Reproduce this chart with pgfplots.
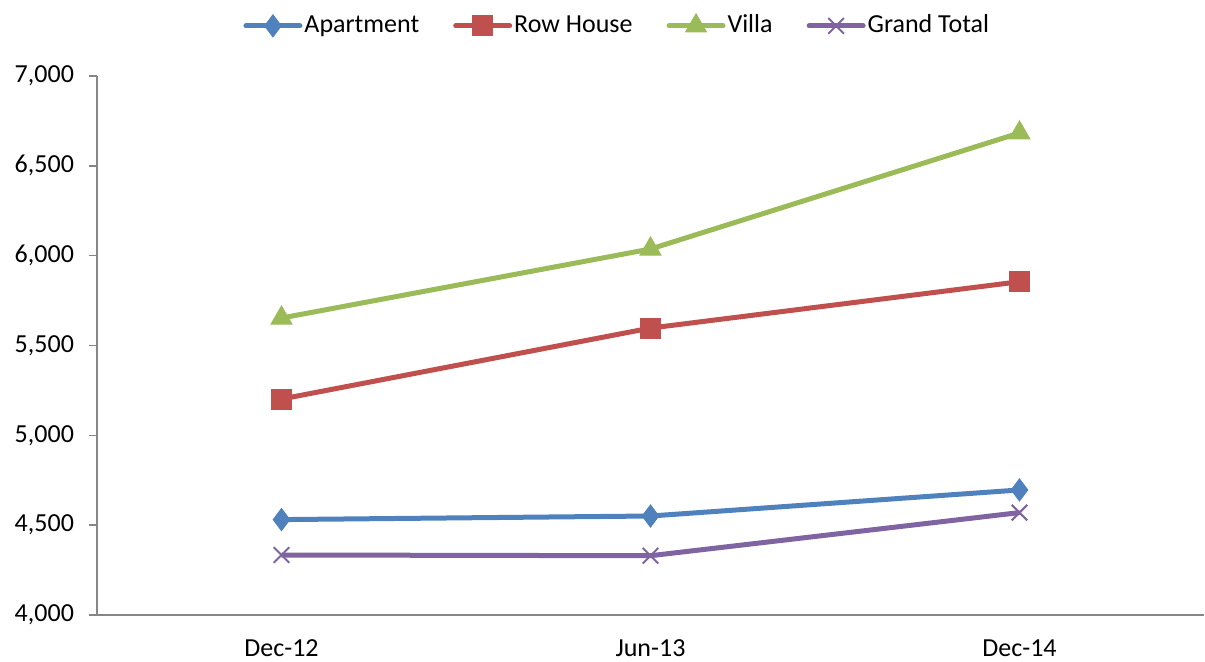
\documentclass[border=0pt]{standalone}
\usepackage{fontspec}
\setmainfont{Carlito}
\usepackage{pgfplots}
\pgfplotsset{compat=1.18}
\definecolor{cA}{HTML}{4F81BD}
\definecolor{cR}{HTML}{C0504D}
\definecolor{cV}{HTML}{9BBB59}
\definecolor{cG}{HTML}{8064A2}
\definecolor{axg}{HTML}{868686}
\begin{document}
\fontsize{13}{15}\selectfont
\begin{tikzpicture}
\begin{axis}[
  at={(0pt,0pt)}, anchor=south west,
  scale only axis, width=553.5pt, height=269.5pt,
  xmin=-0.5, xmax=2.5, ymin=4000, ymax=7000,
  axis x line*=bottom, axis y line*=left,
  axis line style={axg, line width=0.8pt},
  xtick={0,1,2}, xticklabels={Dec-12,Jun-13,Dec-14},
  extra x ticks={-0.5,0.5,1.5,2.5}, extra x tick labels={},
  extra x tick style={major tick length=4pt, tick style={axg, line width=0.8pt}, tick pos=lower},
  x tick style={draw=none},
  ytick={4000,4500,...,7000},
  y tick style={axg, line width=0.8pt},
  major tick length=4pt,
  tick align=outside,
  y tick label style={/pgf/number format/1000 sep={,}},
  /pgf/number format/assume math mode=true,
  ticklabel style={font=\fontsize{13}{15}\selectfont},
  xticklabel style={yshift=-4pt},
  yticklabel style={xshift=-3pt},
  legend style={at={(0.47,1.093)}, anchor=center, draw=none, legend columns=4,
    font=\fontsize{13}{15}\selectfont, fill=none,
    nodes={inner xsep=1pt},
    /tikz/every even column/.append style={column sep=16pt}},
  legend image code/.code={
    \draw[#1, mark=none, line width=2.5pt, line cap=round] (0pt,0pt) -- (27pt,0pt);
    \draw[#1, only marks] plot coordinates {(13.5pt,0pt)};
  },
  every axis plot/.append style={line width=2.5pt},
  clip=false,
]
\addplot[cA, mark=diamond*, mark size=5.5pt, mark options={fill=cA, line width=0.5pt}] coordinates {(0,4531) (1,4551) (2,4696)};
\addlegendentry{Apartment}
\addplot[cR, mark=square*, mark size=5pt, mark options={fill=cR, line width=0.5pt}] coordinates {(0,5202) (1,5597) (2,5855)};
\addlegendentry{Row House}
\addplot[cV, mark=triangle*, mark size=6pt, mark options={fill=cV, line width=0.5pt}] coordinates {(0,5653) (1,6037) (2,6683)};
\addlegendentry{Villa}
\addplot[cG, mark=x, mark size=5.5pt, mark options={line width=1pt}] coordinates {(0,4334) (1,4330) (2,4570)};
\addlegendentry{Grand Total}
\end{axis}
\pgfresetboundingbox
\path[use as bounding box] (-48.5pt,-23pt) rectangle (554pt,307.5pt);
\end{tikzpicture}
\end{document}
